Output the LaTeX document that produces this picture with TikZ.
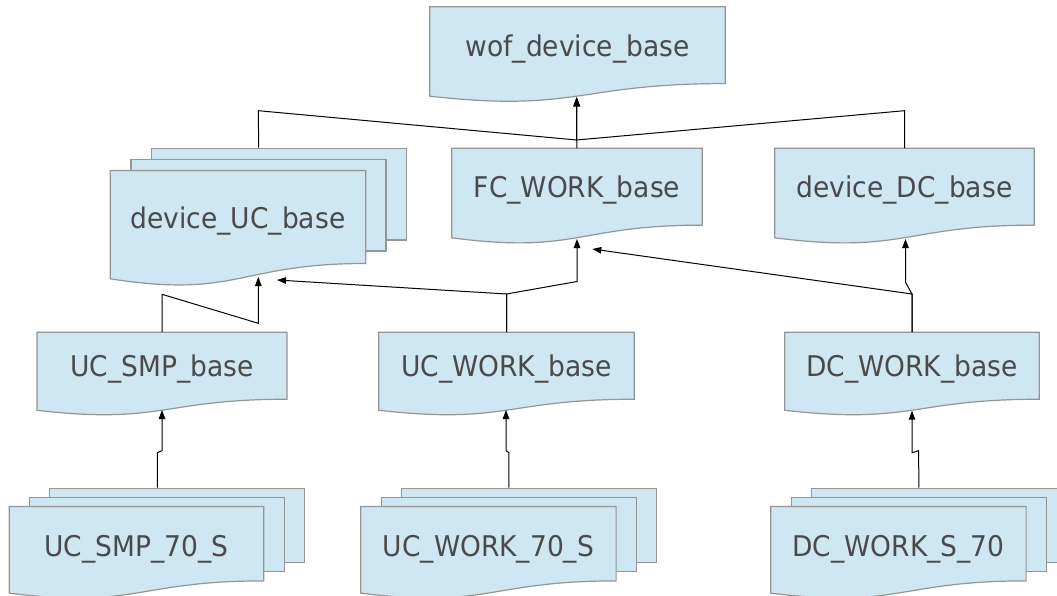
\documentclass[tikz,border=0pt]{standalone}
\usepackage{fontspec}
\setmainfont{DejaVu Sans}[FakeStretch=0.93]
\usetikzlibrary{arrows.meta,calc,fit,backgrounds}
\definecolor{pagefill}{HTML}{CFE6F3}
\definecolor{pageline}{HTML}{959595}
\definecolor{labeltext}{HTML}{4A4A4A}
\tikzset{
  x=1pt, y=-1pt,
  doc/.style={rectangle, inner sep=0pt, text=labeltext,
    text height=22pt, text depth=0pt,
    font=\fontsize{28.5}{34}\selectfont},
  lowdoc/.style={doc, text height=24.6pt},
  page/.style={rectangle, inner sep=0pt, fill=pagefill, draw=pageline, line width=1.2pt},
  docline/.style={fill=pagefill, draw=pageline, line width=1.2pt},
  conn/.style={draw=black, line width=1pt, line join=miter,
    -{Triangle[length=9pt,width=6.5pt]}},
  hull/.style={inner sep=0pt, draw=none},
}
% document outline: straight top and sides, wavy bottom below the node
\newcommand\docoutline[1]{%
  \path[docline] (#1.north west) -- (#1.north east) -- (#1.south east)
    .. controls (#1.south) and ($(#1.north)!1.380!(#1.south)$) ..
    ($(#1.north west)!1.1646!(#1.south west)$) -- cycle;}

\begin{document}
\begin{tikzpicture}
\useasboundingbox (0,0) rectangle (1057,596);

% ---------- labelled nodes ----------
\node[doc, minimum width=295, minimum height=76.3] (wof) at (577.5,45.2) {wof\_device\_base};

\node[doc, minimum width=255, minimum height=92.6] (ucb) at (238,217) {device\_UC\_base};
\node[doc, minimum width=250, minimum height=76.5] (fcw) at (577,186.7) {FC\_WORK\_base};
\node[doc, minimum width=259, minimum height=76.5] (dcb) at (904.5,186.7) {device\_DC\_base};

\node[doc, minimum width=249.5, minimum height=66.7] (ucsmp) at (162,365.7) {UC\_SMP\_base};
\node[doc, minimum width=255, minimum height=66.7] (ucwork) at (506.5,365.7) {UC\_WORK\_base};
\node[doc, minimum width=254, minimum height=66.7] (dcwork) at (912,365.7) {DC\_WORK\_base};

\node[lowdoc, minimum width=254, minimum height=74] (smp70) at (136.5,543.7) {UC\_SMP\_70\_S};
\node[lowdoc, minimum width=255, minimum height=74] (work70) at (488.4,543.7) {UC\_WORK\_70\_S};
\node[lowdoc, minimum width=255, minimum height=74] (dc70) at (898.4,543.7) {DC\_WORK\_S\_70};

% ---------- page outlines (behind the labels) ----------
\begin{scope}[on background layer]
  \docoutline{wof}
  \docoutline{fcw}
  \docoutline{dcb}
  \docoutline{ucsmp}
  \docoutline{ucwork}
  \docoutline{dcwork}
  % stacked pages
  \node[page, minimum width=255, minimum height=91.7] (ucb3) at (279,194.2) {};
  \node[page, minimum width=255, minimum height=91.7] (ucb2) at (258.5,205.2) {};
  \docoutline{ucb}
  \foreach \n in {smp70,work70,dc70}{
    \node[page, minimum width=255, minimum height=74] (\n3) at ($(\n)+(40.6,-18.4)$) {};
    \node[page, minimum width=255, minimum height=74] (\n2) at ($(\n)+(20.3,-9.2)$) {};
    \docoutline{\n}
  }
\end{scope}

% whole stacks, for attaching connectors
\node[hull, fit=(ucb)(ucb3)] (ucstack) {};
\node[hull, fit=(smp70)(smp703)] (smpstack) {};
\node[hull, fit=(work70)(work703)] (workstack) {};
\node[hull, fit=(dc70)(dc703)] (dcstack) {};

% arrow tips on the wavy edges
\coordinate (wofin) at (576.7,97.3);
\coordinate (ucbinA) at (258.3,277);
\coordinate (ucbinB) at (277,280);
\coordinate (fcwinA) at (577,239);
\coordinate (fcwinB) at (592.3,249);
\coordinate (dcbin) at (905.5,239);
\coordinate (ucsmpin) at (162,410);
\coordinate (ucworkin) at (506,410);
\coordinate (dcworkin) at (912,410.7);

% ---------- connectors ----------
\draw[conn] (ucstack.north) -- (258.3,110.7) -- (576.7,140) -- (wofin);
\draw[conn] (fcw.north) -- (576.7,140) -- (wofin);
\draw[conn] (dcb.north) -- (904.5,110.7) -- (576.7,140) -- (wofin);

\draw[conn] (ucsmp.north) -- (162,294.3) -- (258.3,323.3) -- (ucbinA);
\draw[conn] (ucwork.north) -- (506.5,294) -- (ucbinB);
\draw[conn] (ucwork.north) -- (506.5,294) -- (577,281.5) -- (fcwinA);
\draw[conn] (dcwork.north) -- (912,294) -- (fcwinB);
\draw[conn] (dcwork.north) -- (912,294) -- (905.5,282.3) -- (dcbin);

\draw[conn] (smpstack.north) -- (157.4,452.7) -- (162,450.7) -- (ucsmpin);
\draw[conn] (workstack.north) -- (508.9,452.7) -- (506,450.7) -- (ucworkin);
\draw[conn] (dcstack.north) -- (918.6,450.7) -- (912,452.7) -- (dcworkin);
\end{tikzpicture}
\end{document}
